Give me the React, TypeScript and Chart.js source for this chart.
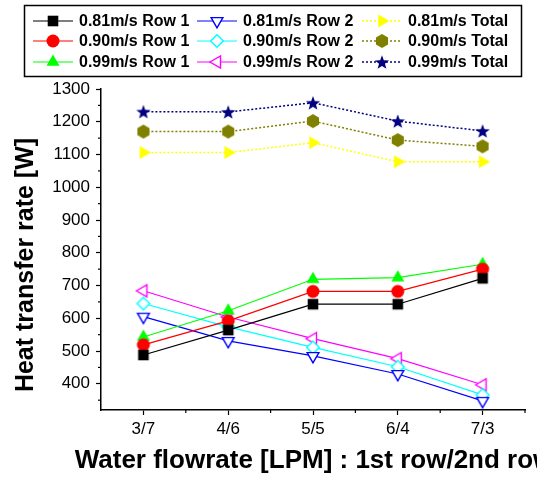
import React, { useEffect, useRef } from 'react';
import { Chart, registerables } from 'chart.js';

Chart.register(...registerables);

// ---------- data ----------
const categories = ['3/7', '4/6', '5/5', '6/4', '7/3'];

const row1At081 = [488, 564, 643, 643, 722];
const row1At090 = [519, 592, 682, 682, 750];
const row1At099 = [543, 623, 719, 724, 765];

const row2At081 = [605, 531, 485, 430, 348];
const row2At090 = [645, 574, 511, 452, 366];
const row2At099 = [684, 604, 538, 477, 397];

const totalAt081 = [1106, 1106, 1136, 1078, 1078];
const totalAt090 = [1170, 1170, 1202, 1144, 1125];
const totalAt099 = [1231, 1230, 1258, 1202, 1172];

const yMajorTicks = [400, 500, 600, 700, 800, 900, 1000, 1100, 1200, 1300];
const yMinorTicks = [350, 450, 550, 650, 750, 850, 950, 1050, 1150, 1250];
const xMinorTicks = [0.5, 1.5, 2.5, 3.5, 4.5];

const yTitle = 'Heat transfer rate [W]';
const xTitle = 'Water flowrate [LPM] : 1st row/2nd row';

const FONT = '"Liberation Sans", Arial, Helvetica, sans-serif';

// ---------- markers ----------
type Shape = 'square' | 'circle' | 'triUp' | 'triDown' | 'triLeft' | 'triRight' | 'diamond' | 'hexagon' | 'star';

function makeMarker(shape: Shape, color: string, hollow: boolean): HTMLCanvasElement {
  const S = 20;
  const c = document.createElement('canvas');
  c.width = S;
  c.height = S;
  const ctx = c.getContext('2d')!;
  const cx = S / 2;
  const cy = S / 2;
  ctx.beginPath();
  const poly = (pts: [number, number][]) => {
    pts.forEach(([x, y], i) => (i === 0 ? ctx.moveTo(x, y) : ctx.lineTo(x, y)));
    ctx.closePath();
  };
  const tri = (angDeg: number, r: number) => {
    const pts: [number, number][] = [];
    for (let k = 0; k < 3; k++) {
      const a = ((angDeg + k * 120) * Math.PI) / 180;
      pts.push([cx + r * Math.cos(a), cy + r * Math.sin(a)]);
    }
    poly(pts);
  };
  switch (shape) {
    case 'square':
      ctx.rect(cx - 5.3, cy - 5.3, 10.6, 10.6);
      break;
    case 'circle':
      ctx.arc(cx, cy, 6.5, 0, Math.PI * 2);
      break;
    case 'triUp':
      tri(-90, 7.5);
      break;
    case 'triDown':
      tri(90, 6.8);
      break;
    case 'triLeft':
      tri(180, 7);
      break;
    case 'triRight':
      tri(0, 7.5);
      break;
    case 'diamond':
      poly([
        [cx, cy - 6.3],
        [cx + 6.3, cy],
        [cx, cy + 6.3],
        [cx - 6.3, cy],
      ]);
      break;
    case 'hexagon': {
      const pts: [number, number][] = [];
      for (let k = 0; k < 6; k++) {
        const a = ((-90 + k * 60) * Math.PI) / 180;
        pts.push([cx + 7 * Math.cos(a), cy + 7 * Math.sin(a)]);
      }
      poly(pts);
      break;
    }
    case 'star': {
      const pts: [number, number][] = [];
      for (let k = 0; k < 10; k++) {
        const r = k % 2 === 0 ? 7.5 : 3.1;
        const a = ((-90 + k * 36) * Math.PI) / 180;
        pts.push([cx + r * Math.cos(a), cy + 0.8 + r * Math.sin(a)]);
      }
      poly(pts);
      break;
    }
  }
  if (hollow) {
    ctx.fillStyle = '#ffffff';
    ctx.fill();
    ctx.lineWidth = 1.4;
    ctx.strokeStyle = color;
    ctx.stroke();
  } else {
    ctx.fillStyle = color;
    ctx.fill();
  }
  return c;
}

// ---------- plugin: minor ticks, titles, legend ----------
const decorPlugin = {
  id: 'decor',
  afterDraw(chart: any) {
    const ctx: CanvasRenderingContext2D = chart.ctx;
    const xs = chart.scales.x;
    const ys = chart.scales.y;
    const area = chart.chartArea;
    ctx.save();

    // minor ticks
    ctx.strokeStyle = '#000';
    ctx.lineWidth = 1.2;
    for (const v of yMinorTicks) {
      const py = ys.getPixelForValue(v);
      ctx.beginPath();
      ctx.moveTo(area.left - 3, py);
      ctx.lineTo(area.left, py);
      ctx.stroke();
    }
    for (const v of xMinorTicks) {
      const px = xs.getPixelForValue(v);
      ctx.beginPath();
      ctx.moveTo(px, area.bottom);
      ctx.lineTo(px, area.bottom + 3);
      ctx.stroke();
    }

    // axis titles
    ctx.fillStyle = '#000';
    ctx.font = `bold 25px ${FONT}`;
    ctx.textAlign = 'center';
    ctx.textBaseline = 'middle';
    ctx.save();
    ctx.translate(26, 265);
    ctx.rotate(-Math.PI / 2);
    ctx.fillText(yTitle, 0, 0);
    ctx.restore();

    ctx.font = `bold 26px ${FONT}`;
    ctx.fillText(xTitle, 314, 461);

    // legend
    const boxL = 24.5, boxT = 5.5, boxR = 521.5, boxB = 76.5;
    ctx.strokeStyle = '#000';
    ctx.lineWidth = 1.5;
    ctx.strokeRect(boxL, boxT, boxR - boxL, boxB - boxT);
    const colX = [33, 197, 362];
    const rowY = [21, 41, 62];
    chart.data.datasets.forEach((ds: any, i: number) => {
      const col = Math.floor(i / 3);
      const row = i % 3;
      const x0 = colX[col];
      const y0 = rowY[row];
      ctx.save();
      ctx.strokeStyle = ds.borderColor;
      ctx.lineWidth = ds.borderWidth;
      ctx.setLineDash(ds.borderDash || []);
      ctx.beginPath();
      ctx.moveTo(x0, y0);
      ctx.lineTo(x0 + 40, y0);
      ctx.stroke();
      ctx.restore();
      const img: HTMLCanvasElement = ds.pointStyle;
      ctx.drawImage(img, x0 + 20 - img.width / 2, y0 - img.height / 2);
      ctx.fillStyle = '#000';
      ctx.font = `bold 16px ${FONT}`;
      ctx.textAlign = 'left';
      ctx.textBaseline = 'middle';
      ctx.fillText(ds.label, x0 + 46, y0 + 1);
    });

    ctx.restore();
  },
};

function toXY(values: number[]) {
  return values.map((v, i) => ({ x: i, y: v }));
}

export default function App() {
  const canvasRef = useRef<HTMLCanvasElement | null>(null);

  useEffect(() => {
    const canvas = canvasRef.current;
    if (!canvas) return;

    const mk = (
      label: string,
      values: number[],
      color: string,
      shape: Shape,
      hollow: boolean,
      dotted: boolean
    ) => ({
      label,
      data: toXY(values),
      borderColor: color,
      backgroundColor: color,
      borderWidth: dotted ? 1.5 : 1.2,
      borderDash: dotted ? [2, 2] : [],
      pointStyle: makeMarker(shape, color, hollow),
      pointRadius: 7,
      tension: 0,
      fill: false,
    });

    const datasets = [
      mk('0.81m/s Row 1', row1At081, '#000000', 'square', false, false),
      mk('0.90m/s Row 1', row1At090, '#ff0000', 'circle', false, false),
      mk('0.99m/s Row 1', row1At099, '#00ff00', 'triUp', false, false),
      mk('0.81m/s Row 2', row2At081, '#0000ff', 'triDown', true, false),
      mk('0.90m/s Row 2', row2At090, '#00ffff', 'diamond', true, false),
      mk('0.99m/s Row 2', row2At099, '#ff00ff', 'triLeft', true, false),
      mk('0.81m/s Total', totalAt081, '#ffff00', 'triRight', false, true),
      mk('0.90m/s Total', totalAt090, '#808000', 'hexagon', false, true),
      mk('0.99m/s Total', totalAt099, '#000080', 'star', false, true),
    ];

    const chart = new Chart(canvas, {
      type: 'line',
      data: { datasets },
      options: {
        animation: false,
        responsive: false,
        events: [],
        layout: { padding: { top: 89, right: 12, left: 0, bottom: 0 } },
        plugins: {
          legend: { display: false },
          tooltip: { enabled: false },
          title: { display: false },
        },
        scales: {
          x: {
            type: 'linear',
            min: -0.5,
            max: 4.5,
            afterBuildTicks: (s: any) => {
              s.ticks = categories.map((_, i) => ({ value: i }));
            },
            afterFit: (s: any) => {
              s.height = 73;
            },
            ticks: {
              autoSkip: false,
              maxRotation: 0,
              padding: 4,
              color: '#000',
              font: { family: FONT, size: 17 },
              callback: (v: any) => categories[Math.round(Number(v))] ?? '',
            },
            grid: {
              drawOnChartArea: false,
              drawTicks: true,
              tickLength: 5,
              tickColor: '#000',
              tickWidth: 1.2,
            },
            border: { display: true, color: '#000', width: 1.5 },
          },
          y: {
            type: 'linear',
            min: 320,
            max: 1300,
            afterBuildTicks: (s: any) => {
              s.ticks = yMajorTicks.map((v) => ({ value: v }));
            },
            afterFit: (s: any) => {
              s.width = 101;
            },
            ticks: {
              padding: 6,
              color: '#000',
              font: { family: FONT, size: 17 },
              callback: (v: any) => String(v),
            },
            grid: {
              drawOnChartArea: false,
              drawTicks: true,
              tickLength: 5,
              tickColor: '#000',
              tickWidth: 1.2,
            },
            border: { display: true, color: '#000', width: 1.5 },
          },
        },
      },
      plugins: [decorPlugin],
    } as any);

    return () => {
      chart.destroy();
    };
  }, []);

  return (
    <div style={{ position: 'absolute', left: 0, top: 0, width: 537, height: 483, background: '#fff' }}>
      <canvas ref={canvasRef} width={537} height={483} style={{ display: 'block' }} />
    </div>
  );
}
